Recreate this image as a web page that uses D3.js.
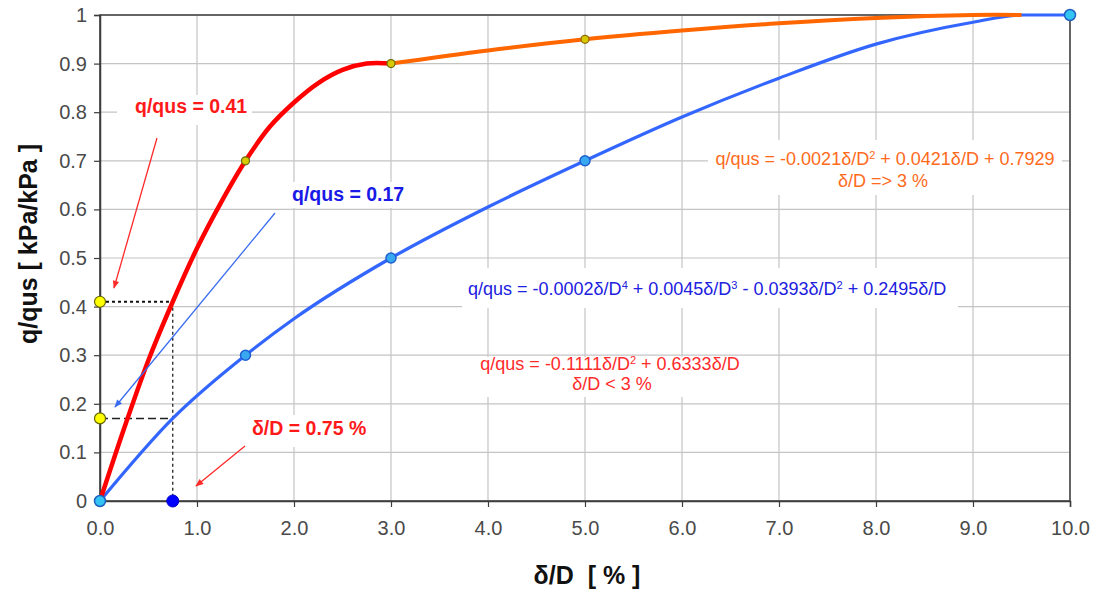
<!DOCTYPE html>
<html><head><meta charset="utf-8">
<script src="https://cdn.jsdelivr.net/npm/d3@7"></script>
<style>
body{margin:0;background:#fff}
svg{display:block}
text{font-family:"Liberation Sans",Arial,Helvetica,sans-serif}
</style>
</head><body>
<svg id="chart" width="1097" height="591"></svg>
<script>
// ---- data ----
const xTicks = [0,1,2,3,4,5,6,7,8,9,10];
const yTicks = [0,0.1,0.2,0.3,0.4,0.5,0.6,0.7,0.8,0.9,1];

// red branch (δ/D < 3 %)
const redX = [0,0.25,0.5,0.75,1.0,1.25,1.5,1.75,2.0,2.25,2.5,2.75,3.0];
const redQ = [0,0.15,0.29,0.41,0.52,0.615,0.70,0.77,0.82,0.86,0.887,0.90,0.90];
const redMarkX = [1.5,3.0];
const redMarkQ = [0.70,0.90];

// orange branch (δ/D >= 3 %)
const orangeX = [3,4,5,6,7,8,9,9.5];
const orangeQ = [0.90,0.927,0.95,0.968,0.983,0.994,1.0,1.0];
const orangeMarkX = [5.0];
const orangeMarkQ = [0.95];

// blue polynomial curve
const blueX = [0,0.75,1.5,2,3,4,5,6,7,8,9,9.5,10];
const blueQ = [0,0.17,0.30,0.375,0.50,0.605,0.70,0.79,0.87,0.94,0.985,1.0,1.0];
const blueMarkX = [1.5,3,5];
const blueMarkQ = [0.30,0.50,0.70];
const endMarkX = [0,10];
const endMarkQ = [0,1];

// read-off guides
const readX = 0.75;
const readRed = 0.41;
const readBlue = 0.17;

// ---- drawing ----
const svg = d3.select("#chart");
const L=100, R=1070, T=15, B=501;
const x = d3.scaleLinear().domain([0,10]).range([L,R]);
const y = d3.scaleLinear().domain([0,1]).range([B,T]);

const defs = svg.append("defs");
function arrowMarker(id,color){
  defs.append("marker").attr("id",id).attr("viewBox","0 0 10 10")
    .attr("refX",9).attr("refY",5).attr("markerWidth",10).attr("markerHeight",8)
    .attr("markerUnits","userSpaceOnUse").attr("orient","auto")
    .append("path").attr("d","M0,1 L10,5 L0,9 Z").attr("fill",color);
}
arrowMarker("arRed","#ff2a2a");
arrowMarker("arBlue","#3a6cf0");

// grid
const grid = svg.append("g");
grid.selectAll(".vg").data(xTicks).join("line")
  .attr("x1",d=>x(d)).attr("x2",d=>x(d)).attr("y1",T).attr("y2",B)
  .attr("stroke","#c4c4c4").attr("stroke-width",1.2);
grid.selectAll(".hg").data(yTicks).join("line")
  .attr("y1",d=>y(d)).attr("y2",d=>y(d)).attr("x1",L).attr("x2",R)
  .attr("stroke","#c4c4c4").attr("stroke-width",1.2);

// white label boxes (cover grid)
const boxes = [
  [117,95,135,30],[277,182,143,26],[245,415,132,32],
  [462,268,496,40],[470,357,282,40],[708,140,354,55]
];
svg.append("g").selectAll("rect").data(boxes).join("rect")
  .attr("x",d=>d[0]).attr("y",d=>d[1]).attr("width",d=>d[2]).attr("height",d=>d[3])
  .attr("fill","#fff");

// frame
svg.append("rect").attr("x",L).attr("y",T).attr("width",R-L).attr("height",B-T)
  .attr("fill","none").attr("stroke","#3c3c3c").attr("stroke-width",1.5);

// axes
const xAxis = d3.axisBottom(x).tickValues(xTicks).tickFormat(d3.format(".1f")).tickSize(6).tickPadding(14);
const yAxis = d3.axisLeft(y).tickValues(yTicks).tickFormat(d3.format("")).tickSize(6).tickPadding(7);
const gx = svg.append("g").attr("transform",`translate(0,${B})`).call(xAxis);
const gy = svg.append("g").attr("transform",`translate(${L},0)`).call(yAxis);
[gx,gy].forEach(g=>{
  g.select(".domain").attr("stroke","#3c3c3c").attr("stroke-width",1.5);
  g.selectAll(".tick line").attr("stroke","#3c3c3c").attr("stroke-width",1.2);
  g.selectAll(".tick text").attr("fill","#4a4a4a").attr("font-size",20)
    .attr("font-family","'Liberation Sans',Arial,sans-serif");
});

// axis titles
svg.append("text").attr("x",587).attr("y",584).attr("text-anchor","middle")
  .attr("font-size",25).attr("font-weight","bold").attr("fill","#111").text("δ/D\u00a0\u00a0[ % ]");
svg.append("text").attr("transform","translate(37,244) rotate(-90)").attr("text-anchor","middle")
  .attr("font-size",25).attr("font-weight","bold").attr("fill","#111").text("q/qus [ kPa/kPa ]");

// guide lines
const guides = svg.append("g");
guides.append("line").attr("x1",x(0)).attr("x2",x(readX)).attr("y1",y(readRed)).attr("y2",y(readRed))
  .attr("stroke","#111").attr("stroke-width",2).attr("stroke-dasharray","3,3");
guides.append("line").attr("x1",x(readX)).attr("x2",x(readX)).attr("y1",y(readRed)).attr("y2",y(0))
  .attr("stroke","#222").attr("stroke-width",1.3).attr("stroke-dasharray","3,3");
guides.append("line").attr("x1",x(0)).attr("x2",x(readX)).attr("y1",y(readBlue)).attr("y2",y(readBlue))
  .attr("stroke","#222").attr("stroke-width",1.5).attr("stroke-dasharray","8,4");

// curves
const zip = (a,b)=>a.map((v,i)=>[v,b[i]]);
const lineM = d3.line().x(d=>x(d[0])).y(d=>y(d[1])).curve(d3.curveMonotoneX);
const lineC = d3.line().x(d=>x(d[0])).y(d=>y(d[1])).curve(d3.curveCatmullRom.alpha(0.5));
svg.append("path").attr("d",lineM(zip(blueX,blueQ))).attr("fill","none")
  .attr("stroke","#3366ff").attr("stroke-width",3.2);
svg.append("path").attr("d",lineC(zip(orangeX,orangeQ))).attr("fill","none")
  .attr("stroke","#ff6600").attr("stroke-width",4);
svg.append("path").attr("d",lineC(zip(redX,redQ))).attr("fill","none")
  .attr("stroke","#ff0000").attr("stroke-width",4.5);

// markers
function dots(xs,qs,r,fill,stroke,sw){
  svg.append("g").selectAll("circle").data(zip(xs,qs)).join("circle")
    .attr("cx",d=>x(d[0])).attr("cy",d=>y(d[1])).attr("r",r)
    .attr("fill",fill).attr("stroke",stroke).attr("stroke-width",sw);
}
dots(redMarkX,redMarkQ,4,"#d8c800","#6a6a10",1.2);
dots(orangeMarkX,orangeMarkQ,4,"#d8c800","#8a6a10",1.2);
dots(blueMarkX,blueMarkQ,5,"#38a8f0","#1f5fd0",1.5);
dots(endMarkX,endMarkQ,5.5,"#33c4f4","#1f5fc0",1.5);
dots([0,0],[readRed,readBlue],5.5,"#ffff00","#666600",1.2);
dots([readX],[0],6,"#0000ff","#0000cc",1);

// callout labels
function label(tx,ty,txt,color){
  svg.append("text").attr("x",tx).attr("y",ty).attr("font-size",19.5).attr("font-weight","bold")
    .attr("fill",color).text(txt);
}
label(135,113,"q/qus = 0.41","#ff1a1a");
label(292,201,"q/qus = 0.17","#1a1ae6");
label(252,435,"δ/D = 0.75 %","#ff1a1a");

// arrows
svg.append("line").attr("x1",157).attr("y1",138).attr("x2",114).attr("y2",288)
  .attr("stroke","#ff2a2a").attr("stroke-width",1.3).attr("marker-end","url(#arRed)");
svg.append("line").attr("x1",275).attr("y1",213).attr("x2",115).attr("y2",407)
  .attr("stroke","#3a6cf0").attr("stroke-width",1.3).attr("marker-end","url(#arBlue)");
svg.append("line").attr("x1",245).attr("y1",446).attr("x2",196).attr("y2",486)
  .attr("stroke","#ff2a2a").attr("stroke-width",1.3).attr("marker-end","url(#arRed)");

// equations
function eq(tx,ty,anchor,parts,color){
  const t = svg.append("text").attr("x",tx).attr("y",ty).attr("text-anchor",anchor)
    .attr("font-size",18).attr("fill",color);
  parts.forEach(p=>{
    if(typeof p === "string") t.append("tspan").text(p);
    else t.append("tspan").attr("baseline-shift","super").attr("font-size",11).text(p.sup);
  });
}
eq(468,295,"start",["q/qus = -0.0002δ/D",{sup:"4"}," + 0.0045δ/D",{sup:"3"}," - 0.0393δ/D",{sup:"2"}," + 0.2495δ/D"],"#2020e0");
eq(610,370,"middle",["q/qus = -0.1111δ/D",{sup:"2"}," + 0.6333δ/D"],"#ff2a2a");
eq(612,390,"middle",["δ/D < 3 %"],"#ff2a2a");
eq(885,165,"middle",["q/qus = -0.0021δ/D",{sup:"2"}," + 0.0421δ/D + 0.7929"],"#ff6a1a");
eq(883,187,"middle",["δ/D => 3 %"],"#ff6a1a");
</script>
</body></html>
